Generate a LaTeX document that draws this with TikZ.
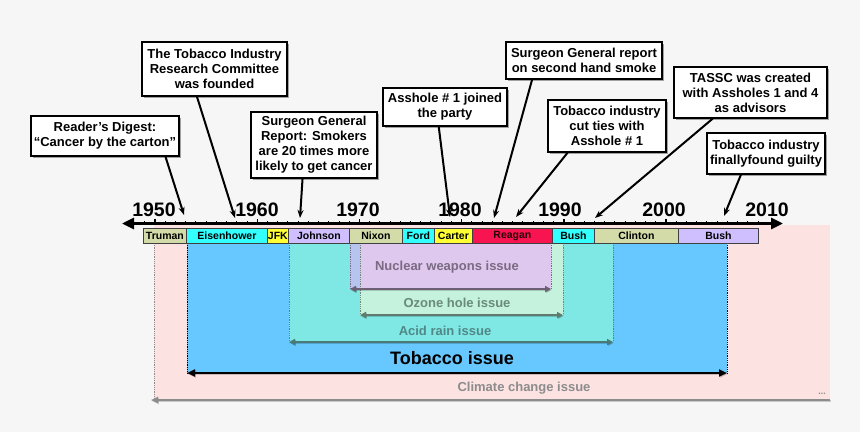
\documentclass[tikz,border=0pt]{standalone}
\usepackage{fontspec}
\setmainfont{Liberation Sans}
\usetikzlibrary{arrows.meta,shadows,calc}
\definecolor{bg}{HTML}{F6F6F6}
\definecolor{olivep}{HTML}{D3DBA8}
\definecolor{cyanp}{HTML}{33FFFF}
\definecolor{yellowp}{HTML}{FFFF33}
\definecolor{lavp}{HTML}{D0BFFF}
\definecolor{redp}{HTML}{F81450}
\definecolor{reaganT}{HTML}{2A000A}
\definecolor{pinkf}{HTML}{FDE2E2}
\definecolor{bluef}{HTML}{66C8FF}
\definecolor{tealf}{HTML}{80E8E4}
\definecolor{greenf}{HTML}{C4F2DC}
\definecolor{nucf}{HTML}{DEC8EE}
\definecolor{stripf}{HTML}{B8C4F0}
\definecolor{nucT}{HTML}{7A6A82}
\definecolor{ozoT}{HTML}{6A8A7A}
\definecolor{acidT}{HTML}{508888}
\definecolor{climT}{HTML}{8C8C8C}
\tikzset{
  callout/.style={draw=black, line width=1.3pt, fill=white,
    drop shadow={shadow xshift=2pt, shadow yshift=-2pt, fill=black!45, opacity=0.8},
    align=center, font=\fontsize{13}{15}\selectfont\bfseries, inner sep=1pt},
  conn/.style={line width=2pt, -{Stealth[length=8pt,width=6pt]}},
  presbox/.style={draw=black!75, line width=0.8pt, anchor=north west, inner sep=0pt,
    minimum height=15.5pt, text=black, font=\fontsize{10.5}{12}\selectfont\bfseries},
  yearlbl/.style={anchor=base, inner sep=0pt, font=\fontsize{19.5}{22}\selectfont\bfseries},
  issuelbl/.style={inner sep=0pt, font=\fontsize{13}{15}\selectfont\bfseries},
  issuearrow/.style={line width=2pt, {Triangle[length=6pt,width=6pt]}-{Triangle[length=6pt,width=6pt]}},
  arrshadow/.style={draw=black, opacity=0.18, transform canvas={xshift=0.8pt,yshift=-1pt}},
  edge/.style={densely dotted, line width=0.8pt}
}
\begin{document}
\begin{tikzpicture}[x=1pt,y=-1pt]
\fill[bg] (0,0) rectangle (860,432);
\useasboundingbox (0,0) rectangle (860,432);

% issue regions
\fill[pinkf] (154,225) rectangle (830,400);
\fill[bluef] (187,243) rectangle (727,373);
\fill[tealf] (289,243) rectangle (613,342);
\fill[greenf] (360,243) rectangle (563,315);
\fill[stripf] (350,243) rectangle (360,289);
\fill[nucf] (360,243) rectangle (551,289);

% dotted edges
\draw[edge, climT] (154,243) -- (154,400);
\draw[edge, black] (187,243) -- (187,373);
\draw[edge, black] (727,243) -- (727,373);
\draw[edge, acidT] (289,243) -- (289,342);
\draw[edge, acidT] (613,243) -- (613,342);
\draw[edge, ozoT] (360,243) -- (360,315);
\draw[edge, ozoT] (563,243) -- (563,315);
\draw[edge, nucT] (350,243) -- (350,289);
\draw[edge, nucT] (551,243) -- (551,289);

% issue arrows
\coordinate (nucA) at (350,289); \coordinate (nucB) at (551,289);
\coordinate (ozoA) at (360,315); \coordinate (ozoB) at (563,315);
\coordinate (acdA) at (289,342); \coordinate (acdB) at (613,342);
\coordinate (tobA) at (187,373); \coordinate (tobB) at (727,373);
\coordinate (cliA) at (151,400); \coordinate (cliB) at (830,400);
\foreach \a/\b in {nucA/nucB, ozoA/ozoB, acdA/acdB} {
  \draw[issuearrow, arrshadow] (\a) -- (\b);
}
\draw[line width=2pt, arrshadow, {Triangle[length=8pt,width=7pt]}-{Triangle[length=8pt,width=7pt]}] (tobA) -- (tobB);
\draw[line width=2pt, arrshadow, {Triangle[length=7pt,width=6pt]}-] (cliA) -- (cliB);
\draw[issuearrow, draw=nucT!90!black, fill=nucT!90!black] (nucA) -- (nucB);
\draw[issuearrow, draw=ozoT!90!black, fill=ozoT!90!black] (ozoA) -- (ozoB);
\draw[issuearrow, draw=acidT!90!black, fill=acidT!90!black] (acdA) -- (acdB);
\draw[line width=2.2pt, {Triangle[length=8pt,width=7pt]}-{Triangle[length=8pt,width=7pt]}] (tobA) -- (tobB);
\draw[line width=2pt, climT, {Triangle[length=7pt,width=6pt]}-] (cliA) -- (cliB);

% issue labels
\node[issuelbl, text=nucT] (nucL) at (447,267) {Nuclear weapons issue};
\node[issuelbl, text=ozoT] (ozoL) at (457,303) {Ozone hole issue};
\node[issuelbl, text=acidT] (acdL) at (445,331) {Acid rain issue};
\node[inner sep=0pt, font=\fontsize{18}{20}\selectfont\bfseries] (tobL) at (452,358) {Tobacco issue};
\node[issuelbl, text=climT] (cliL) at (524,388) {Climate change issue};
\node[inner sep=0pt, text=climT, font=\fontsize{9}{10}\selectfont\bfseries] (dots) at (822,394) {...};

% presidents
\node[presbox, fill=olivep, minimum width=43pt] (p1) at (143,227.5) {Truman};
\node[presbox, fill=cyanp, minimum width=81pt] (p2) at (186,227.5) {Eisenhower};
\node[presbox, fill=yellowp, minimum width=21pt] (p3) at (267,227.5) {JFK};
\node[presbox, fill=lavp, minimum width=61pt] (p4) at (288,227.5) {Johnson};
\node[presbox, fill=olivep, minimum width=53pt] (p5) at (349,227.5) {Nixon};
\node[presbox, fill=cyanp, minimum width=32pt] (p6) at (402,227.5) {Ford};
\node[presbox, fill=yellowp, minimum width=38pt] (p7) at (434,227.5) {Carter};
\node[presbox, fill=redp, minimum width=80pt] (p8) at (472,227.5) {\textcolor{reaganT}{Reagan}};
\node[presbox, fill=cyanp, minimum width=42pt] (p9) at (552,227.5) {Bush};
\node[presbox, fill=olivep, minimum width=84pt] (p10) at (594,227.5) {Clinton};
\node[presbox, fill=lavp, minimum width=80pt] (p11) at (678,227.5) {Bush};

% axis
\foreach \yr in {1949,...,2009} {
  \draw[line width=0.9pt] ({155+(\yr-1950)*10.22},224) -- ++(0,-3.5);
}
\foreach \yr in {1950,1960,...,2000} {
  \draw[line width=1.4pt] ({155+(\yr-1950)*10.22},224) -- ++(0,-5.5);
}
\coordinate (axL) at (122,223.5);
\coordinate (axR) at (783,223.5);
\draw[line width=2.8pt, {Triangle[length=12pt,width=11pt]}-{Triangle[length=12pt,width=11pt]}] (axL) -- (axR);

\node[yearlbl] (y1950) at (154,216.5) {1950};
\node[yearlbl] (y1960) at (257,216.5) {1960};
\node[yearlbl] (y1970) at (358,216.5) {1970};
\node[yearlbl] (y1980) at (460,216.5) {1980};
\node[yearlbl] (y1990) at (560,216.5) {1990};
\node[yearlbl] (y2000) at (664,216.5) {2000};
\node[yearlbl] (y2010) at (767,216.5) {2010};

% callouts
\node[callout, minimum width=148pt, minimum height=40pt] (rd) at (105,136) {Reader’s Digest:\\“Cancer by the carton”};
\node[callout, minimum width=145pt, minimum height=54pt] (tirc) at (214.5,69) {The Tobacco Industry\\Research Committee\\was founded};
\node[callout, minimum width=126pt, minimum height=66pt] (sg1) at (314,145) {Surgeon General\\Report: Smokers\\are 20 times more\\likely to get cancer};
\node[callout, minimum width=124pt, minimum height=38pt] (ah1) at (445,107) {Asshole \# 1 joined\\the party};
\node[callout, minimum width=156pt, minimum height=37pt] (sg2) at (584,60.5) {Surgeon General report\\on second hand smoke};
\node[callout, minimum width=118pt, minimum height=52pt] (cut) at (607,126) {Tobacco industry\\cut ties with\\Asshole \# 1};
\node[callout, minimum width=153pt, minimum height=51pt] (tassc) at (750.5,92.5) {TASSC was created\\with Assholes 1 and 4\\as advisors};
\node[callout, minimum width=118pt, minimum height=41pt] (guilty) at (766,153.5) {Tobacco industry\\finallyfound guilty};

\coordinate (t1) at (184,215);
\coordinate (t2) at (235,218);
\coordinate (t3) at (300,218);
\coordinate (t4) at (450,217);
\coordinate (t5) at (494,218);
\coordinate (t6) at (516,217);
\coordinate (t7) at (595,218);
\coordinate (t8) at (724,216);

\draw[conn] ($(rd.south west)!0.905!(rd.south east)$) -- (t1);
\draw[conn] ($(tirc.south west)!0.38!(tirc.south east)$) -- (t2);
\draw[conn] ($(sg1.south west)!0.41!(sg1.south east)$) -- (t3);
\draw[conn] ($(ah1.south west)!0.45!(ah1.south east)$) -- (t4);
\draw[conn] ($(sg2.south west)!0.17!(sg2.south east)$) -- (t5);
\draw[conn] ($(cut.south west)!0.17!(cut.south east)$) -- (t6);
\draw[conn] ($(tassc.south west)!0.255!(tassc.south east)$) -- (t7);
\draw[conn] ($(guilty.south west)!0.29!(guilty.south east)$) -- (t8);
\end{tikzpicture}
\end{document}
